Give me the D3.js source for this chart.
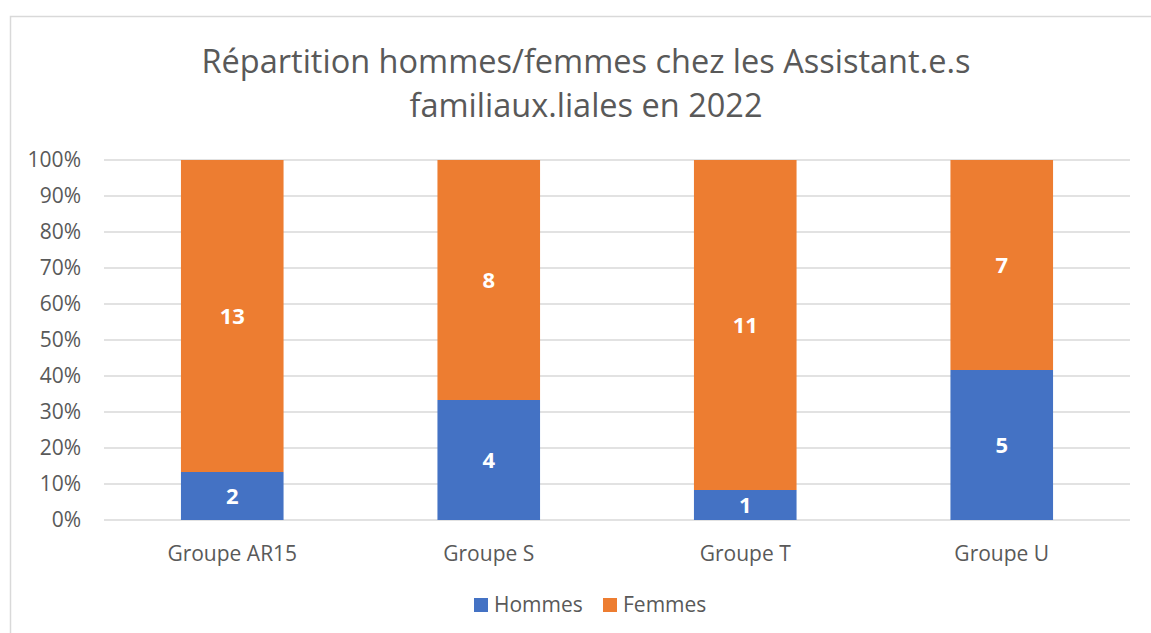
<!DOCTYPE html>
<html><head><meta charset="utf-8">
<script src="https://cdn.jsdelivr.net/npm/d3@7"></script>
<style>body{margin:0;background:#fff;} text{font-family:"Open Sans", sans-serif;}</style>
</head><body>
<svg id="c" width="1151" height="633"></svg>
<script>
const categories = ["Groupe AR15","Groupe S","Groupe T","Groupe U"];
const hommes = [2,4,1,5];
const femmes = [13,8,11,7];
const seriesNames = ["Hommes","Femmes"];
const yTicks = [0,0.1,0.2,0.3,0.4,0.5,0.6,0.7,0.8,0.9,1];
const titleLines = ["Répartition hommes/femmes chez les Assistant.e.s","familiaux.liales en 2022"];
const colors = ["#4472c4","#ed7d31"];
const FONT = "'Open Sans', sans-serif";

const svg = d3.select("#c");
svg.append("rect").attr("x",10.5).attr("y",16.5).attr("width",1150).attr("height",630).attr("fill","#fff").attr("stroke","#d9d9d9").attr("stroke-width",1.5);

const x = d3.scaleBand().domain(categories).range([104,1130]).paddingInner(0.6).paddingOuter(0.3);
const y = d3.scaleLinear().domain([0,1]).range([520,160]);

const g = svg.append("g");
g.selectAll("line.grid").data(yTicks).join("line").attr("class","grid")
  .attr("x1",104).attr("x2",1130).attr("y1",d=>y(d)).attr("y2",d=>y(d))
  .attr("stroke","#d9d9d9").attr("stroke-width",1.5);

const yAxis = d3.axisLeft(y).tickValues(yTicks).tickFormat(d3.format(".0%")).tickSize(0).tickPadding(23);
const ya = svg.append("g").attr("transform","translate(104,0)").call(yAxis);
ya.select(".domain").remove();
ya.selectAll("text").attr("font-size",21).attr("fill","#595959").attr("font-family",FONT);

const xAxis = d3.axisBottom(x).tickSize(0).tickPadding(26);
const xa = svg.append("g").attr("transform","translate(0,520)").call(xAxis);
xa.select(".domain").remove();
xa.selectAll("text").attr("font-size",21).attr("fill","#595959").attr("font-family",FONT);

const data = categories.map((c,i)=>({cat:c, h:hommes[i], f:femmes[i]}));
const stack = d3.stack().keys(["h","f"]).offset(d3.stackOffsetExpand)(data);
stack.forEach((s,si)=>{
  const gg = svg.append("g");
  gg.selectAll("rect").data(s).join("rect")
    .attr("x",d=>x(d.data.cat)).attr("width",x.bandwidth())
    .attr("y",d=>y(d[1])).attr("height",d=>y(d[0])-y(d[1]))
    .attr("fill",colors[si]);
  gg.selectAll("text").data(s).join("text")
    .attr("x",d=>x(d.data.cat)+x.bandwidth()/2)
    .attr("y",d=>(y(d[0])+y(d[1]))/2)
    .attr("dy","0.36em").attr("text-anchor","middle")
    .attr("fill","#fff").attr("font-weight","bold").attr("font-size",22).attr("font-family",FONT)
    .text(d=>d.data[si===0?"h":"f"]);
});

svg.selectAll("text.title").data(titleLines).join("text").attr("class","title")
  .attr("x",586).attr("y",(d,i)=>72.5+i*44).attr("text-anchor","middle")
  .attr("font-size",32.5).attr("fill","#595959").attr("font-family",FONT).text(d=>d);

const leg = svg.append("g");
const legX = [474,603];
seriesNames.forEach((n,i)=>{
  leg.append("rect").attr("x",legX[i]).attr("y",598).attr("width",14).attr("height",14).attr("fill",colors[i]);
  leg.append("text").attr("x",legX[i]+20).attr("y",612).attr("font-size",21).attr("fill","#595959").attr("font-family",FONT).text(n);
});
</script>
</body></html>
